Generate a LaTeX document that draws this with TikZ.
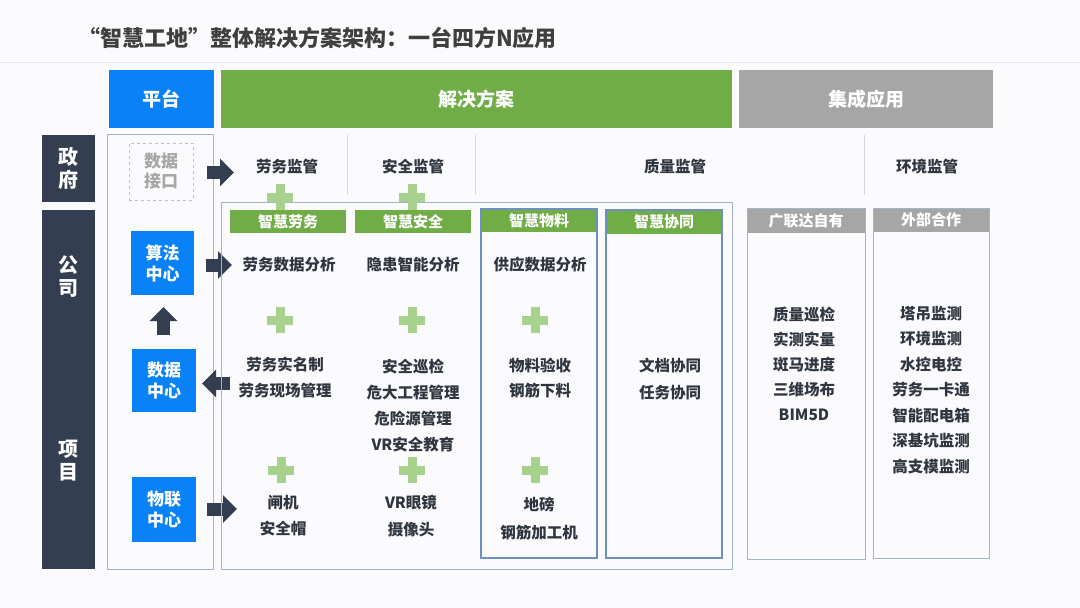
\documentclass[tikz,border=0pt]{standalone}
\usepackage{fontspec}
\setmainfont{Noto Sans CJK SC}
\usetikzlibrary{arrows.meta}
\definecolor{bgc}{HTML}{FBFAFD}
\definecolor{titlec}{HTML}{3F3F3F}
\definecolor{txt}{HTML}{30363F}
\definecolor{pblue}{HTML}{0A82F7}
\definecolor{pgreen}{HTML}{70AD47}
\definecolor{pgray}{HTML}{A6A6A6}
\definecolor{pdark}{HTML}{333F50}
\definecolor{plusg}{HTML}{A9D18E}
\definecolor{outlc}{HTML}{A3B4CC}
\definecolor{inoutc}{HTML}{6F8FC0}
\definecolor{sepc}{HTML}{E4E4E8}
\definecolor{vsepc}{HTML}{D9D9DE}
\newcommand\myfs[2]{\fontsize{#1}{#2}\selectfont}
\newcommand\fwq[1]{{\addfontfeature{RawFeature=+fwid}#1}}
\begin{document}
\begin{tikzpicture}[x=1pt,y=-1pt,
  box/.style={rectangle,inner sep=0pt,outer sep=0pt},
  bighead/.style={box,text=white,font=\bfseries\myfs{19}{22}},
  bluebox/.style={box,fill=pblue,text=white,align=center,font=\bfseries\myfs{17}{21}},
  darkbar/.style={box,fill=pdark},
  bartext/.style={inner sep=0pt,text=white,align=center,font=\bfseries\myfs{20}{23}},
  outl/.style={box,draw=outlc,line width=0.9pt},
  inoutl/.style={box,draw=inoutc,line width=1.3pt},
  subhead/.style={box,text=white,font=\bfseries\myfs{15}{18}},
  lbl/.style={inner sep=0pt,text=txt,align=center,font=\bfseries\myfs{15.5}{26}},
  blockarrow/.style={draw=pdark,line width=13pt,-{Triangle[width=27pt,length=14pt]}},
  vsep/.style={draw=vsepc,line width=0.8pt},
  plussign/.pic={\fill[plusg] (-13,-4.5) rectangle (13,4.5);
                 \fill[plusg] (-4.5,-13) rectangle (4.5,13);}
]
\useasboundingbox (0,0) rectangle (1080,608);
\fill[bgc] (0,0) rectangle (1080,608);

% title
\node[inner sep=0pt,text=titlec,font=\bfseries\myfs{22}{25}] (title) at (317.5,38)
  {\fwq{“}智慧工地\fwq{”}整体解决方案架构：一台四方N应用};
\coordinate (sepL) at (0,62);
\coordinate (sepR) at (1080,62);
\draw[draw=sepc,line width=1pt] (sepL) -- (sepR);

% top headers
\node[bighead,fill=pblue,minimum width=105,minimum height=58] (pt) at (161.5,99) {平台};
\node[bighead,fill=pgreen,minimum width=511,minimum height=58] (jjfa) at (476.5,99) {解决方案};
\node[bighead,fill=pgray,minimum width=254,minimum height=58] (jcyy) at (866,99) {集成应用};

% left bars
\node[darkbar,minimum width=53,minimum height=67] (zfbar) at (68.5,168.5) {};
\node[bartext] (zf) at (zfbar.center) {政\\府};
\node[darkbar,minimum width=53,minimum height=359] (gsbar) at (68.5,389.5) {};
\node[bartext] (gs) at (68.5,277) {公\\司};
\node[bartext] (xm) at (68.5,461) {项\\目};

% platform column
\node[outl,minimum width=106,minimum height=435] (ptcol) at (160,351.5) {};
\node[box,draw=pgray!70,dashed,line width=0.9pt,minimum width=64,minimum height=57,
      text=pgray,align=center,font=\bfseries\myfs{17}{20}] (sjjk) at (161,171.5) {数据\\接口};
\node[bluebox,minimum width=63,minimum height=64] (sfzx) at (162.5,263) {算法\\中心};
\node[bluebox,minimum width=64,minimum height=63] (sjzx) at (164,380.5) {数据\\中心};
\node[bluebox,minimum width=64,minimum height=65] (wlzx) at (164,509.5) {物联\\中心};

% block arrows
\coordinate (a1s) at (207,172.5); \coordinate (a1e) at (234,172.5);
\coordinate (a2s) at (206,265);   \coordinate (a2e) at (232,265);
\coordinate (a3s) at (230,383.5); \coordinate (a3e) at (202,383.5);
\coordinate (a4s) at (207,509);   \coordinate (a4e) at (237,509);
\coordinate (aus) at (163.5,335); \coordinate (aue) at (163.5,307);
\draw[blockarrow] (a1s) -- (a1e);
\draw[blockarrow] (a2s) -- (a2e);
\draw[blockarrow] (a3s) -- (a3e);
\draw[blockarrow] (a4s) -- (a4e);
\draw[blockarrow] (aus) -- (aue);

% top row labels and separators
\node[lbl] (lwjg) at (287,167) {劳务监管};
\node[lbl] (aqjg) at (413,167) {安全监管};
\node[lbl] (zljg) at (675,167) {质量监管};
\node[lbl] (hjjg) at (927,167) {环境监管};
\coordinate (v1t) at (347,135); \coordinate (v1b) at (347,195);
\coordinate (v2t) at (475,135); \coordinate (v2b) at (475,195);
\coordinate (v3t) at (864,135); \coordinate (v3b) at (864,195);
\draw[vsep] (v1t) -- (v1b);
\draw[vsep] (v2t) -- (v2b);
\draw[vsep] (v3t) -- (v3b);

% big solution box
\node[outl,minimum width=511,minimum height=367] (bigbox) at (476.5,385.5) {};
\pic at (280,197) {plussign};
\pic at (412,197) {plussign};

% green sub headers
\node[subhead,fill=pgreen,minimum width=116,minimum height=23] (zhlw) at (288,221.5) {智慧劳务};
\node[subhead,fill=pgreen,minimum width=116,minimum height=23] (zhaq) at (413,221.5) {智慧安全};
\node[subhead,fill=pgreen,minimum width=116,minimum height=23] (zhwlh) at (539,220.5) {智慧物料};
\node[inoutl,minimum width=116,minimum height=349] (zhwl) at (539,383.5) {};
\node[subhead,fill=pgreen,minimum width=116,minimum height=24] (zhxth) at (664,222) {智慧协同};
\node[inoutl,minimum width=116,minimum height=348] (zhxt) at (664,384) {};

% solution contents
\node[lbl] (lwsjfx) at (289,265) {劳务数据分析};
\node[lbl] (yhznfx) at (413,265) {隐患智能分析};
\node[lbl] (gysjfx) at (540,265) {供应数据分析};
\pic at (280,320) {plussign};
\pic at (412,320) {plussign};
\pic at (535,320) {plussign};
\node[lbl] (g1) at (285,377.5) {劳务实名制\\劳务现场管理};
\node[lbl] (g2) at (413,405.5) {安全巡检\\危大工程管理\\危险源管理\\VR安全教育};
\node[lbl,font=\bfseries\myfs{15.5}{25}] (g3) at (540,378) {物料验收\\钢筋下料};
\node[lbl,font=\bfseries\myfs{15.5}{27}] (g4) at (670,379) {文档协同\\任务协同};
\pic at (281,470) {plussign};
\pic at (412,470) {plussign};
\pic at (535,470) {plussign};
\node[lbl] (g5) at (283,516) {闸机\\安全帽};
\node[lbl,font=\bfseries\myfs{15.5}{27}] (g6) at (411,516.5) {VR眼镜\\摄像头};
\node[lbl,font=\bfseries\myfs{15.5}{28}] (g7) at (539,519) {地磅\\钢筋加工机};

% integrated applications
\node[subhead,fill=pgray,minimum width=118,minimum height=25] (glzyh) at (806,220.5) {广联达自有};
\node[outl,minimum width=118,minimum height=351] (glzy) at (806,383.5) {};
\node[subhead,fill=pgray,minimum width=116,minimum height=24] (wbhzh) at (931,220) {外部合作};
\node[outl,minimum width=116,minimum height=350] (wbhz) at (931,383) {};
\node[lbl,font=\bfseries\myfs{15.5}{25}] (g8) at (804,363.5) {质量巡检\\实测实量\\斑马进度\\三维场布\\BIM5D};
\node[lbl,font=\bfseries\myfs{15.5}{25.5}] (g9) at (931,390) {塔吊监测\\环境监测\\水控电控\\劳务一卡通\\智能配电箱\\深基坑监测\\高支模监测};
\end{tikzpicture}
\end{document}
